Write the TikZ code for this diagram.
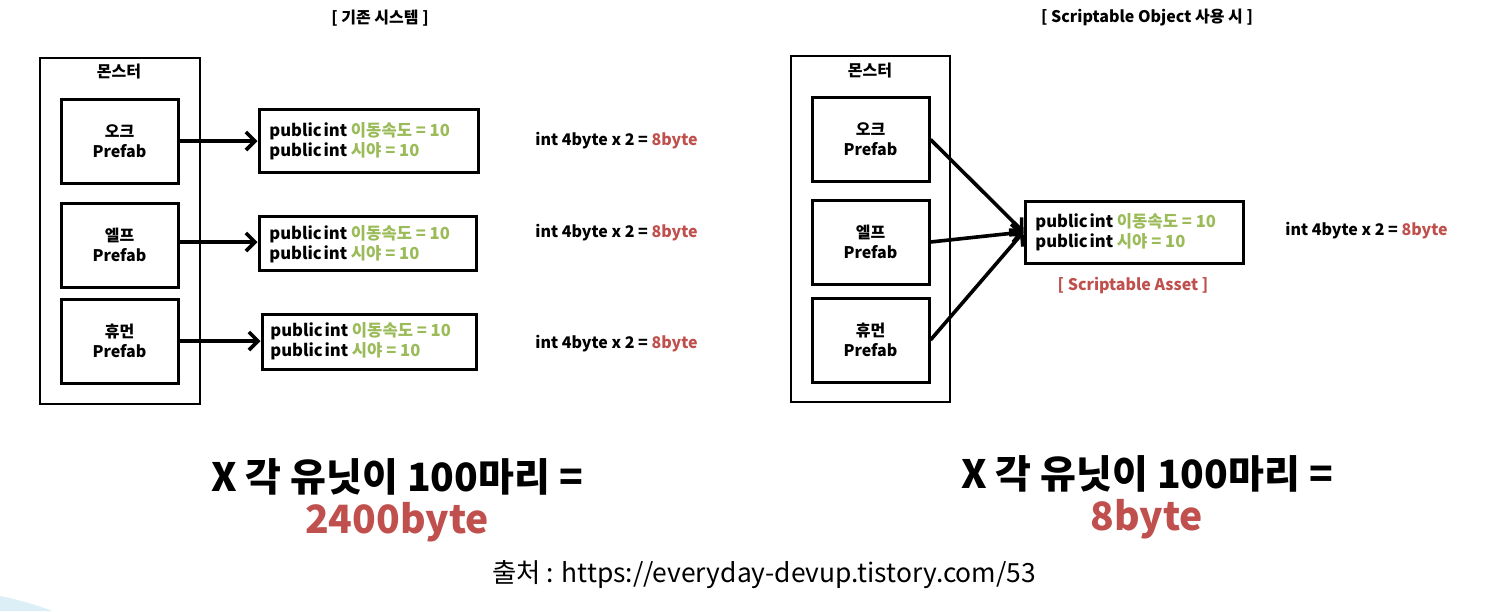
\documentclass[tikz,border=0pt]{standalone}
\usepackage{fontspec}
\setmainfont{Noto Sans CJK KR}
\usetikzlibrary{arrows.meta}
\definecolor{grn}{HTML}{9BBB59}
\definecolor{rd}{HTML}{C0504D}
\definecolor{swoosh}{HTML}{DCEEF6}
\begin{document}
\begin{tikzpicture}[x=0.5pt,y=-0.5pt,
  frame/.style={draw, line width=1.1pt, inner sep=0pt},
  prefab/.style={frame, line width=1.5pt, minimum width=58.5pt, minimum height=42pt, align=center, font=\fontsize{8}{10}\selectfont\bfseries},
  databox/.style={frame, line width=1.5pt},
  datatext/.style={anchor=west, align=left, inner sep=0pt, font=\fontsize{8.3}{10}\selectfont\bfseries},
  lbl/.style={inner sep=0pt, font=\fontsize{8}{10}\selectfont\bfseries},
  calc/.style={anchor=west, inner sep=0pt, font=\fontsize{8}{10}\selectfont\bfseries},
  big/.style={inner sep=0pt, font=\fontsize{19.5}{22}\selectfont\bfseries},
  arr/.style={line width=1.8pt, -{Straight Barb[length=4.5pt,width=9pt]}}]
\useasboundingbox (0,0) rectangle (1499,611);
\fill[white] (0,0) rectangle (1499,611);
\fill[swoosh] (0,596) .. controls (20,600) and (40,606) .. (52,611) -- (0,611) -- cycle;

% ---------- left ----------
\node[lbl] (t1) at (380,18) {[ 기존 시스템 ]};
\node[frame, minimum width=80pt, minimum height=173pt] (m1) at (120,231) {};
\node[lbl] (m1l) at (119,72) {몬스터};
\node[prefab] (o1) at (119.5,141) {오크\\Prefab};
\node[prefab] (e1) at (119.5,245) {엘프\\Prefab};
\node[prefab] (h1) at (119.5,341) {휴먼\\Prefab};

\node[databox, minimum width=109.5pt, minimum height=31.5pt] (b1) at (368.5,140.5) {};
\node[databox, minimum width=108.5pt, minimum height=27pt] (b2) at (367.5,243) {};
\node[databox, minimum width=107pt, minimum height=27.5pt] (b3) at (369,341.5) {};
\node[datatext] (b1t) at (269,141) {public\hspace{0.1em}int \textcolor{grn}{이동속도 = 10}\\public\hspace{0.1em}int \textcolor{grn}{시야 = 10}};
\node[datatext] (b2t) at (269,244) {public\hspace{0.1em}int \textcolor{grn}{이동속도 = 10}\\public\hspace{0.1em}int \textcolor{grn}{시야 = 10}};
\node[datatext] (b3t) at (270,341) {public\hspace{0.1em}int \textcolor{grn}{이동속도 = 10}\\public\hspace{0.1em}int \textcolor{grn}{시야 = 10}};

\draw[arr] (o1.east) -- (o1.east -| b1.west);
\draw[arr] (e1.east) ++(0,-3) -- (b2.west |- 0,242);
\draw[arr] (h1.east) -- (h1.east -| b3.west);

\node[calc] (c1) at (535,141) {int 4byte x 2 = \textcolor{rd}{8byte}};
\node[calc] (c2) at (535,233) {int 4byte x 2 = \textcolor{rd}{8byte}};
\node[calc] (c3) at (535,344) {int 4byte x 2 = \textcolor{rd}{8byte}};

\node[big] (x1) at (397,477) {X 각 유닛이 100마리 =};
\node[big, text=rd] (r1) at (397,522) {2400byte};

% ---------- right ----------
\node[lbl] (t2) at (1147,18) {[ Scriptable Object 사용 시 ]};
\node[frame, minimum width=79.5pt, minimum height=173pt] (m2) at (870.5,229) {};
\node[lbl] (m2l) at (870,71) {몬스터};
\node[prefab] (o2) at (870.5,139.5) {오크\\Prefab};
\node[prefab] (e2) at (870.5,242) {엘프\\Prefab};
\node[prefab] (h2) at (870.5,340) {휴먼\\Prefab};

\node[databox, minimum width=109pt, minimum height=31pt] (as) at (1134,232) {};
\node[datatext] (ast) at (1035,232) {public\hspace{0.1em}int \textcolor{grn}{이동속도 = 10}\\public\hspace{0.1em}int \textcolor{grn}{시야 = 10}};
\node[lbl, text=rd] (asl) at (1133,286) {[ Scriptable Asset ]};

\draw[arr] (o2.east) -- (as.west);
\draw[arr] (e2.east) -- (as.west);
\draw[arr] (h2.east) -- (as.west);

\node[calc] (c4) at (1285,231) {int 4byte x 2 = \textcolor{rd}{8byte}};

\node[big] (x2) at (1147,474) {X 각 유닛이 100마리 =};
\node[big, text=rd] (r2) at (1147,519) {8byte};

% ---------- source ----------
\node[inner sep=0pt, font=\fontsize{13.2}{15}\selectfont] (src) at (764,575) {출처 : https://everyday-devup.tistory.com/53};
\end{tikzpicture}
\end{document}
